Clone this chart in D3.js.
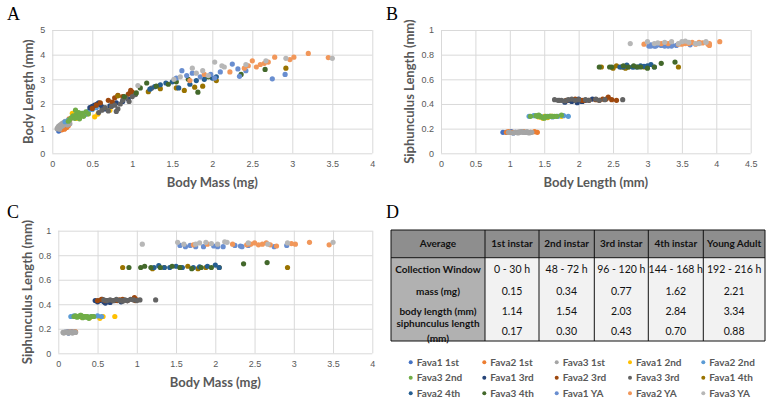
<!DOCTYPE html>
<html>
<head>
<meta charset="utf-8">
<script src="https://cdn.jsdelivr.net/npm/d3@7"></script>
<style>
   body { margin: 0; background: #fff; }
   svg { display: block; font-family: Lato, "Open Sans", sans-serif; }
</style>
</head>
<body>
<svg id="figure" width="772" height="403"></svg>
<script>
// every point: [body mass (mg), body length (mm), siphunculus length (mm)]
const fava1First = [
   [0.08, 0.90, 0.17], [0.10, 0.95, 0.17], [0.12, 1.02, 0.175], [0.13, 1.05, 0.165],
   [0.14, 1.08, 0.17], [0.15, 1.12, 0.17], [0.17, 1.18, 0.175], [0.19, 1.22, 0.17]
];
const fava2First = [
   [0.12, 0.95, 0.17], [0.15, 0.98, 0.175], [0.16, 1.02, 0.17], [0.18, 1.05, 0.17],
   [0.20, 1.12, 0.17], [0.21, 1.20, 0.175], [0.20, 1.30, 0.17], [0.22, 1.36, 0.175], [0.21, 1.40, 0.17]
];
const fava3First = [
   [0.06, 1.00, 0.17], [0.07, 1.05, 0.165], [0.08, 1.10, 0.17], [0.09, 0.98, 0.17],
   [0.10, 1.15, 0.175], [0.11, 1.08, 0.17], [0.12, 1.20, 0.17], [0.13, 1.12, 0.165],
   [0.14, 1.25, 0.17], [0.15, 1.18, 0.175], [0.16, 1.30, 0.17], [0.17, 1.22, 0.17],
   [0.18, 1.28, 0.165], [0.19, 1.15, 0.17], [0.20, 1.32, 0.17], [0.21, 1.25, 0.175], [0.22, 1.20, 0.17]
];
const fava1Second = [
   [0.30, 1.42, 0.295], [0.35, 1.50, 0.30], [0.40, 1.55, 0.29], [0.45, 1.60, 0.30],
   [0.53, 1.48, 0.285], [0.57, 1.59, 0.30], [0.72, 1.75, 0.30], [0.25, 1.62, 0.30]
];
const fava2Second = [
   [0.16, 1.28, 0.30], [0.20, 1.35, 0.305], [0.25, 1.45, 0.30], [0.30, 1.55, 0.30],
   [0.38, 1.62, 0.295], [0.42, 1.58, 0.30], [0.45, 1.70, 0.30], [0.50, 1.78, 0.305], [0.55, 1.85, 0.30]
];
const fava3Second = [
   [0.20, 1.30, 0.30], [0.22, 1.38, 0.305], [0.24, 1.45, 0.295], [0.26, 1.52, 0.30],
   [0.28, 1.42, 0.31], [0.29, 1.75, 0.31], [0.30, 1.58, 0.30], [0.31, 1.48, 0.29],
   [0.33, 1.65, 0.30], [0.34, 1.40, 0.30], [0.35, 1.55, 0.295], [0.37, 1.62, 0.30],
   [0.39, 1.50, 0.285], [0.42, 1.68, 0.30], [0.45, 1.60, 0.30]
];
const fava1Third = [
   [0.47, 1.85, 0.43], [0.50, 1.90, 0.42], [0.53, 1.95, 0.43], [0.56, 2.00, 0.44],
   [0.58, 2.05, 0.42], [0.60, 1.98, 0.41], [0.62, 1.88, 0.43], [0.66, 1.80, 0.415],
   [0.72, 1.92, 0.43], [0.80, 2.05, 0.42], [0.88, 2.10, 0.43], [0.95, 2.20, 0.44]
];
const fava2Third = [
   [0.50, 1.82, 0.43], [0.55, 1.95, 0.44], [0.60, 2.05, 0.43], [0.70, 2.15, 0.43],
   [0.75, 2.08, 0.43], [0.78, 2.25, 0.435], [0.82, 2.35, 0.44], [0.88, 2.30, 0.43],
   [0.95, 2.40, 0.44], [0.97, 2.43, 0.455], [1.00, 2.48, 0.435], [0.98, 2.55, 0.43]
];
const fava3Third = [
   [0.58, 1.65, 0.435], [0.62, 1.75, 0.43], [0.66, 1.85, 0.435], [0.70, 1.72, 0.43],
   [0.74, 1.90, 0.44], [0.78, 1.95, 0.43], [0.80, 1.70, 0.43], [0.82, 1.80, 0.425],
   [0.85, 2.00, 0.435], [0.88, 2.15, 0.43], [0.92, 2.25, 0.44], [0.96, 2.10, 0.435],
   [1.00, 2.30, 0.43], [1.04, 2.38, 0.435], [1.24, 2.64, 0.435]
];
const fava1Fourth = [
   [0.82, 2.33, 0.70], [1.20, 2.50, 0.69], [1.35, 2.62, 0.70], [1.55, 2.65, 0.70],
   [1.65, 2.55, 0.71], [1.78, 2.68, 0.69], [1.88, 2.72, 0.70], [2.05, 2.95, 0.70], [2.92, 3.45, 0.70]
];
const fava2Fourth = [
   [1.22, 2.60, 0.70], [1.28, 2.70, 0.715], [1.35, 2.78, 0.70], [1.42, 2.85, 0.70],
   [1.50, 2.90, 0.71], [1.58, 2.65, 0.70], [1.72, 2.80, 0.70], [1.80, 2.95, 0.705],
   [1.90, 3.00, 0.71], [2.00, 3.05, 0.72], [2.05, 3.10, 0.70]
];
const fava3Fourth = [
   [0.90, 2.30, 0.70], [1.05, 2.45, 0.70], [1.10, 2.65, 0.71], [1.18, 2.85, 0.70],
   [1.30, 2.72, 0.70], [1.45, 2.80, 0.71], [1.55, 2.90, 0.70], [1.70, 3.00, 0.69],
   [1.82, 2.48, 0.70], [1.95, 3.10, 0.70], [2.36, 3.20, 0.73], [2.66, 3.40, 0.74]
];
const fava1Adult = [
   [1.55, 3.05, 0.88], [1.62, 3.35, 0.87], [1.68, 3.15, 0.88], [1.75, 3.25, 0.87],
   [1.85, 3.10, 0.87], [1.98, 3.20, 0.875], [2.03, 3.05, 0.87], [2.10, 3.30, 0.87],
   [2.25, 3.62, 0.88], [2.32, 3.42, 0.875], [2.34, 3.12, 0.87], [2.42, 3.35, 0.88],
   [2.75, 3.02, 0.87], [2.91, 3.20, 0.88]
];
const fava2Adult = [
   [1.72, 2.95, 0.885], [1.90, 3.20, 0.89], [2.22, 3.30, 0.89], [2.40, 3.45, 0.885],
   [2.45, 3.55, 0.89], [2.50, 3.75, 0.90], [2.55, 3.50, 0.885], [2.60, 3.60, 0.89],
   [2.65, 3.65, 0.90], [2.70, 3.70, 0.885], [2.78, 3.90, 0.875], [2.97, 3.80, 0.895],
   [3.02, 3.90, 0.89], [3.20, 4.05, 0.905], [3.45, 3.88, 0.885]
];
const fava3Adult = [
   [1.07, 2.75, 0.89], [1.52, 3.00, 0.905], [1.60, 3.10, 0.89], [1.75, 3.45, 0.89],
   [1.80, 3.25, 0.90], [1.88, 3.35, 0.905], [1.95, 3.15, 0.895], [2.03, 3.70, 0.89],
   [2.12, 3.55, 0.91], [2.15, 3.50, 0.905], [2.42, 3.60, 0.90], [2.67, 3.75, 0.89],
   [2.92, 3.85, 0.90], [3.50, 3.85, 0.905]
];

const seriesNames = [
   'Fava1 1st', 'Fava2 1st', 'Fava3 1st', 'Fava1 2nd', 'Fava2 2nd',
   'Fava3 2nd', 'Fava1 3rd', 'Fava2 3rd', 'Fava3 3rd', 'Fava1 4th',
   'Fava2 4th', 'Fava3 4th', 'Fava1 YA', 'Fava2 YA', 'Fava3 YA'
];
const seriesColors = [
   '#4472C4', '#ED7D31', '#A5A5A5', '#FFC000', '#5B9BD5',
   '#70AD47', '#264478', '#9E480E', '#636363', '#997300',
   '#255E91', '#43682B', '#698ED0', '#F1975A', '#B7B7B7'
];
const seriesData = [
   fava1First, fava2First, fava3First, fava1Second, fava2Second,
   fava3Second, fava1Third, fava2Third, fava3Third, fava1Fourth,
   fava2Fourth, fava3Fourth, fava1Adult, fava2Adult, fava3Adult
];

const massTicks = [0, 0.5, 1, 1.5, 2, 2.5, 3, 3.5, 4];
const bodyLengthTicksA = [0, 1, 2, 3, 4, 5];
const bodyLengthTicksB = [0, 0.5, 1, 1.5, 2, 2.5, 3, 3.5, 4, 4.5];
const siphTicks = [0, 0.2, 0.4, 0.6, 0.8, 1];

const tableHeader = ['Average', '1st instar', '2nd instar', '3rd instar', '4th instar', 'Young Adult'];
const tableRowLabels = ['Collection Window', 'mass (mg)', 'body length (mm)', ['siphunculus length', '(mm)']];
const collectionWindow = ['0 - 30 h', '48 - 72 h', '96 - 120 h', '144 - 168 h', '192 - 216 h'];
const averageMass = ['0.15', '0.34', '0.77', '1.62', '2.21'];
const averageBodyLength = ['1.14', '1.54', '2.03', '2.84', '3.34'];
const averageSiphLength = ['0.17', '0.30', '0.43', '0.70', '0.88'];

const svg = d3.select( '#figure' );
const textGrey = '#595959';
const gridGrey = '#d9d9d9';

function panelLetter( letter, x, y ) {
   svg.append( 'text' )
      .attr( 'x', x ).attr( 'y', y )
      .style( 'font-family', '"Liberation Serif", serif' )
      .style( 'font-size', '18px' )
      .text( letter );
}

function scatterPanel( o ) {
   const x = d3.scaleLinear().domain( [ o.xTicks[ 0 ], o.xTicks[ o.xTicks.length - 1 ] ] ).range( [ o.left, o.right ] );
   const y = d3.scaleLinear().domain( [ o.yTicks[ 0 ], o.yTicks[ o.yTicks.length - 1 ] ] ).range( [ o.bottom, o.top ] );
   const g = svg.append( 'g' );

   const xAxis = g.append( 'g' )
      .attr( 'transform', `translate(0,${o.bottom})` )
      .call( d3.axisBottom( x ).tickValues( o.xTicks ).tickFormat( d => String( d ) )
         .tickSize( -( o.bottom - o.top ) ).tickPadding( 7 ) );
   const yAxis = g.append( 'g' )
      .attr( 'transform', `translate(${o.left},0)` )
      .call( d3.axisLeft( y ).tickValues( o.yTicks ).tickFormat( d => String( d ) )
         .tickSize( -( o.right - o.left ) ).tickPadding( 7 ) );
   [ xAxis, yAxis ].forEach( axis => {
      axis.select( '.domain' ).remove();
      axis.selectAll( 'line' ).attr( 'stroke', gridGrey ).attr( 'stroke-width', 1 );
      axis.selectAll( 'text' ).attr( 'fill', textGrey ).style( 'font-size', '9px' );
   } );

   seriesData.forEach( ( points, i ) => {
      g.append( 'g' ).selectAll( 'circle' )
         .data( points )
         .join( 'circle' )
         .attr( 'cx', d => x( d[ o.xIndex ] ) )
         .attr( 'cy', d => y( d[ o.yIndex ] ) )
         .attr( 'r', 2.6 )
         .attr( 'fill', seriesColors[ i ] );
   } );

   g.append( 'text' )
      .attr( 'x', ( o.left + o.right ) / 2 ).attr( 'y', o.bottom + 34 )
      .attr( 'text-anchor', 'middle' )
      .attr( 'fill', textGrey )
      .style( 'font-size', '13px' ).style( 'font-weight', 'bold' )
      .text( o.xTitle );
   g.append( 'text' )
      .attr( 'transform', `translate(${o.yTitleX},${( o.top + o.bottom ) / 2}) rotate(-90)` )
      .attr( 'text-anchor', 'middle' )
      .attr( 'fill', textGrey )
      .style( 'font-size', '13px' ).style( 'font-weight', 'bold' )
      .text( o.yTitle );
}

panelLetter( 'A', 7, 20 );
scatterPanel( {
   left: 52.3, right: 372.3, top: 30, bottom: 153.3,
   xTicks: massTicks, yTicks: bodyLengthTicksA, xIndex: 0, yIndex: 1,
   xTitle: 'Body Mass (mg)', yTitle: 'Body Length (mm)', yTitleX: 33
} );

panelLetter( 'B', 386, 20 );
scatterPanel( {
   left: 441, right: 750.7, top: 30, bottom: 153.3,
   xTicks: bodyLengthTicksB, yTicks: siphTicks, xIndex: 1, yIndex: 2,
   xTitle: 'Body Length (mm)', yTitle: 'Siphunculus Length (mm)', yTitleX: 414
} );

panelLetter( 'C', 7, 218 );
scatterPanel( {
   left: 58.3, right: 372.3, top: 230.7, bottom: 353.3,
   xTicks: massTicks, yTicks: siphTicks, xIndex: 0, yIndex: 2,
   xTitle: 'Body Mass (mg)', yTitle: 'Siphunculus Length (mm)', yTitleX: 32
} );

// ---- table D
panelLetter( 'D', 386, 218 );
const colEdges = [ 391, 485, 539, 594.3, 648.3, 703.3, 765 ];
const rowEdges = [ 230, 257.7, 281, 301, 321.3, 341 ];
const table = svg.append( 'g' ).style( 'font-size', '10px' );
const bodyRows = [ collectionWindow, averageMass, averageBodyLength, averageSiphLength ];

table.append( 'rect' )
   .attr( 'x', colEdges[ 0 ] ).attr( 'y', rowEdges[ 0 ] )
   .attr( 'width', colEdges[ 6 ] - colEdges[ 0 ] ).attr( 'height', rowEdges[ 1 ] - rowEdges[ 0 ] )
   .attr( 'fill', '#8e8e8e' );
table.append( 'rect' )
   .attr( 'x', colEdges[ 0 ] ).attr( 'y', rowEdges[ 1 ] )
   .attr( 'width', colEdges[ 1 ] - colEdges[ 0 ] ).attr( 'height', rowEdges[ 5 ] - rowEdges[ 1 ] )
   .attr( 'fill', '#b1b1b1' );
table.append( 'rect' )
   .attr( 'x', colEdges[ 1 ] ).attr( 'y', rowEdges[ 1 ] )
   .attr( 'width', colEdges[ 6 ] - colEdges[ 1 ] ).attr( 'height', rowEdges[ 5 ] - rowEdges[ 1 ] )
   .attr( 'fill', '#f2f2f2' );

colEdges.forEach( cx => {
   table.append( 'line' )
      .attr( 'x1', cx ).attr( 'x2', cx ).attr( 'y1', rowEdges[ 0 ] ).attr( 'y2', rowEdges[ 5 ] )
      .attr( 'stroke', '#111' ).attr( 'stroke-width', 1 );
} );
[ rowEdges[ 0 ], rowEdges[ 1 ], rowEdges[ 5 ] ].forEach( ry => {
   table.append( 'line' )
      .attr( 'x1', colEdges[ 0 ] ).attr( 'x2', colEdges[ 6 ] ).attr( 'y1', ry ).attr( 'y2', ry )
      .attr( 'stroke', '#111' ).attr( 'stroke-width', 1 );
} );

const colCenter = i => ( colEdges[ i ] + colEdges[ i + 1 ] ) / 2;
const rowCenter = i => ( rowEdges[ i ] + rowEdges[ i + 1 ] ) / 2;

table.selectAll( 'text.head' )
   .data( tableHeader )
   .join( 'text' )
   .attr( 'x', ( d, i ) => colCenter( i ) ).attr( 'y', rowCenter( 0 ) )
   .attr( 'dy', '0.35em' ).attr( 'text-anchor', 'middle' )
   .style( 'font-weight', 'bold' ).attr( 'fill', '#111' )
   .text( d => d );

tableRowLabels.forEach( ( label, r ) => {
   const lines = Array.isArray( label ) ? label : [ label ];
   lines.forEach( ( line, k ) => {
      table.append( 'text' )
         .attr( 'x', colCenter( 0 ) )
         .attr( 'y', rowCenter( r + 1 ) + ( k - ( lines.length - 1 ) / 2 ) * 15 )
         .attr( 'dy', '0.35em' ).attr( 'text-anchor', 'middle' )
         .style( 'font-weight', 'bold' ).attr( 'fill', '#111' )
         .text( line );
   } );
   table.append( 'g' ).selectAll( 'text' )
      .data( bodyRows[ r ] )
      .join( 'text' )
      .attr( 'x', ( d, i ) => colCenter( i + 1 ) ).attr( 'y', rowCenter( r + 1 ) )
      .attr( 'dy', '0.35em' ).attr( 'text-anchor', 'middle' ).attr( 'fill', '#111' )
      .style( 'font-size', '10.5px' )
      .text( d => d );
} );

// ---- legend
const legendX = [ 410.7, 484.3, 556.7, 630, 703.3 ];
const legendY = [ 362.3, 377.7, 393.3 ];
const legend = svg.append( 'g' ).selectAll( 'g' )
   .data( seriesNames )
   .join( 'g' )
   .attr( 'transform', ( d, i ) => `translate(${legendX[ i % 5 ]},${legendY[ Math.floor( i / 5 ) ]})` );
legend.append( 'circle' ).attr( 'r', 2 ).attr( 'fill', ( d, i ) => seriesColors[ i ] );
legend.append( 'text' )
   .attr( 'x', 6 ).attr( 'dy', '0.35em' )
   .attr( 'fill', textGrey )
   .style( 'font-size', '10px' ).style( 'font-weight', 'bold' )
   .text( d => d );
</script>
</body>
</html>
